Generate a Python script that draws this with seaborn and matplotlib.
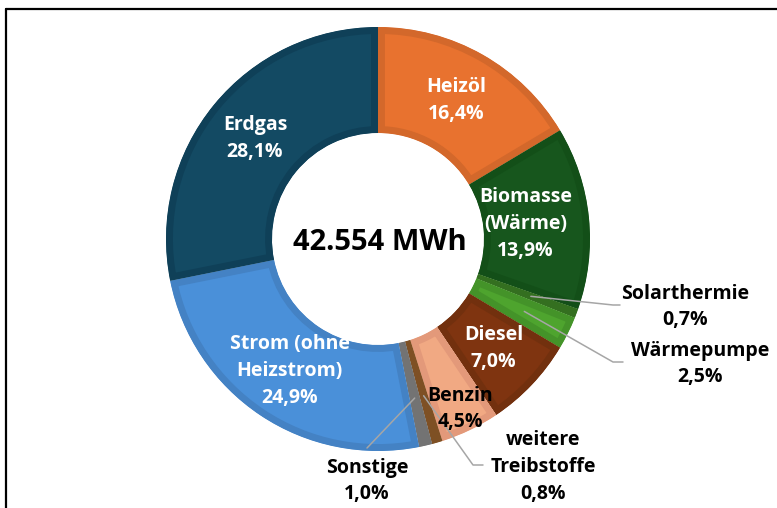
import numpy as np
import matplotlib
matplotlib.use('Agg')
import matplotlib.pyplot as plt
from matplotlib.lines import Line2D
import seaborn as sns

# Daten
kategorien = ['Heizöl', 'Biomasse\n(Wärme)', 'Solarthermie', 'Wärmepumpe', 'Diesel',
              'Benzin', 'weitere\nTreibstoffe', 'Sonstige', 'Strom (ohne\nHeizstrom)', 'Erdgas']
anteile = [16.4, 13.9, 0.7, 2.5, 7.0, 4.5, 0.8, 1.0, 24.9, 28.1]
gesamt_label = '42.554 MWh'

farben = ['#e8722f', '#17561d', '#3a7a24', '#4ea42e', '#7f3410',
          '#f1a983', '#8e5a28', '#7f7f7f', '#4a90d9', '#134a63']
rand = ['#d3682b', '#134f18', '#346f20', '#449329', '#72300e',
        '#e3997a', '#7e5024', '#737373', '#4482c4', '#0f4058']

sns.set_theme(style='white')
plt.rcParams['font.family'] = ['Open Sans', 'DejaVu Sans']

fig = plt.figure(figsize=(7.77, 5.08), dpi=100)
# Achse so, dass Mittelpunkt ~ (378, 239) px, Radius ~212 px
ax = fig.add_axes([166/777, (508-451)/508, 424/777, 424/508])

wedges, _ = ax.pie(anteile, colors=farben, startangle=90, counterclock=False,
                   radius=1, wedgeprops=dict(width=0.5, linewidth=0))
# dunklerer Innenrand je Segment
for w, c in zip(wedges, rand):
    w.set_edgecolor(c)
    w.set_linewidth(10)
    w.set_clip_on(True)
    w.set_clip_path(w)

ax.set_xlim(-1, 1)
ax.set_ylim(-1, 1)
ax.set_aspect('equal')
ax.axis('off')

def mitte(w):
    return np.deg2rad((w.theta1 + w.theta2) / 2)

def fmt(v):
    return f'{v:.1f}%'.replace('.', ',')

# Innenbeschriftungen
innen = {0: 0.75, 1: 0.70, 4: 0.75, 5: 0.89, 8: 0.75, 9: 0.75}
for i, r in innen.items():
    a = mitte(wedges[i])
    col = 'black' if kategorien[i] == 'Benzin' else 'white'
    ax.text(r*np.cos(a), r*np.sin(a), kategorien[i] + '\n' + fmt(anteile[i]),
            ha='center', va='center', color=col, fontsize=14, fontweight='bold',
            linespacing=1.45)

# Aussenbeschriftungen mit Führungslinien
def px(x, y):
    return (x - 378) / 212, (239 - y) / 212

aussen = {
    2: dict(text=px(685, 307), pts=[px(613, 305), px(620, 305)]),
    3: dict(text=px(700, 364), pts=[px(613, 362), px(623, 362)]),
    6: dict(text=px(543, 467), pts=[px(473, 465), px(483, 465)]),
    7: dict(text=px(367, 481), pts=[px(367, 448)]),
}
for i, d in aussen.items():
    a = mitte(wedges[i])
    xs = [0.77*np.cos(a)] + [p[0] for p in d['pts']]
    ys = [0.77*np.sin(a)] + [p[1] for p in d['pts']]
    ax.plot(xs, ys, color='#a6a6a6', lw=1.1, clip_on=False)
    ax.text(*d['text'], kategorien[i] + '\n' + fmt(anteile[i]),
            ha='center', va='center', color='black', fontsize=14, fontweight='bold',
            linespacing=1.45)

ax.text(0.01, -0.015, gesamt_label, ha='center', va='center', fontsize=21,
        fontweight='bold', color='black')

# Rahmen (abgeschnitten)
fig.add_artist(Line2D([6/777, 6/777], [0, 1 - 9/508], color='black', lw=1.6,
                      transform=fig.transFigure))
fig.add_artist(Line2D([6/777, 1], [1 - 9/508, 1 - 9/508], color='black', lw=1.6,
                      transform=fig.transFigure))

fig.savefig('out.png', dpi=100)
